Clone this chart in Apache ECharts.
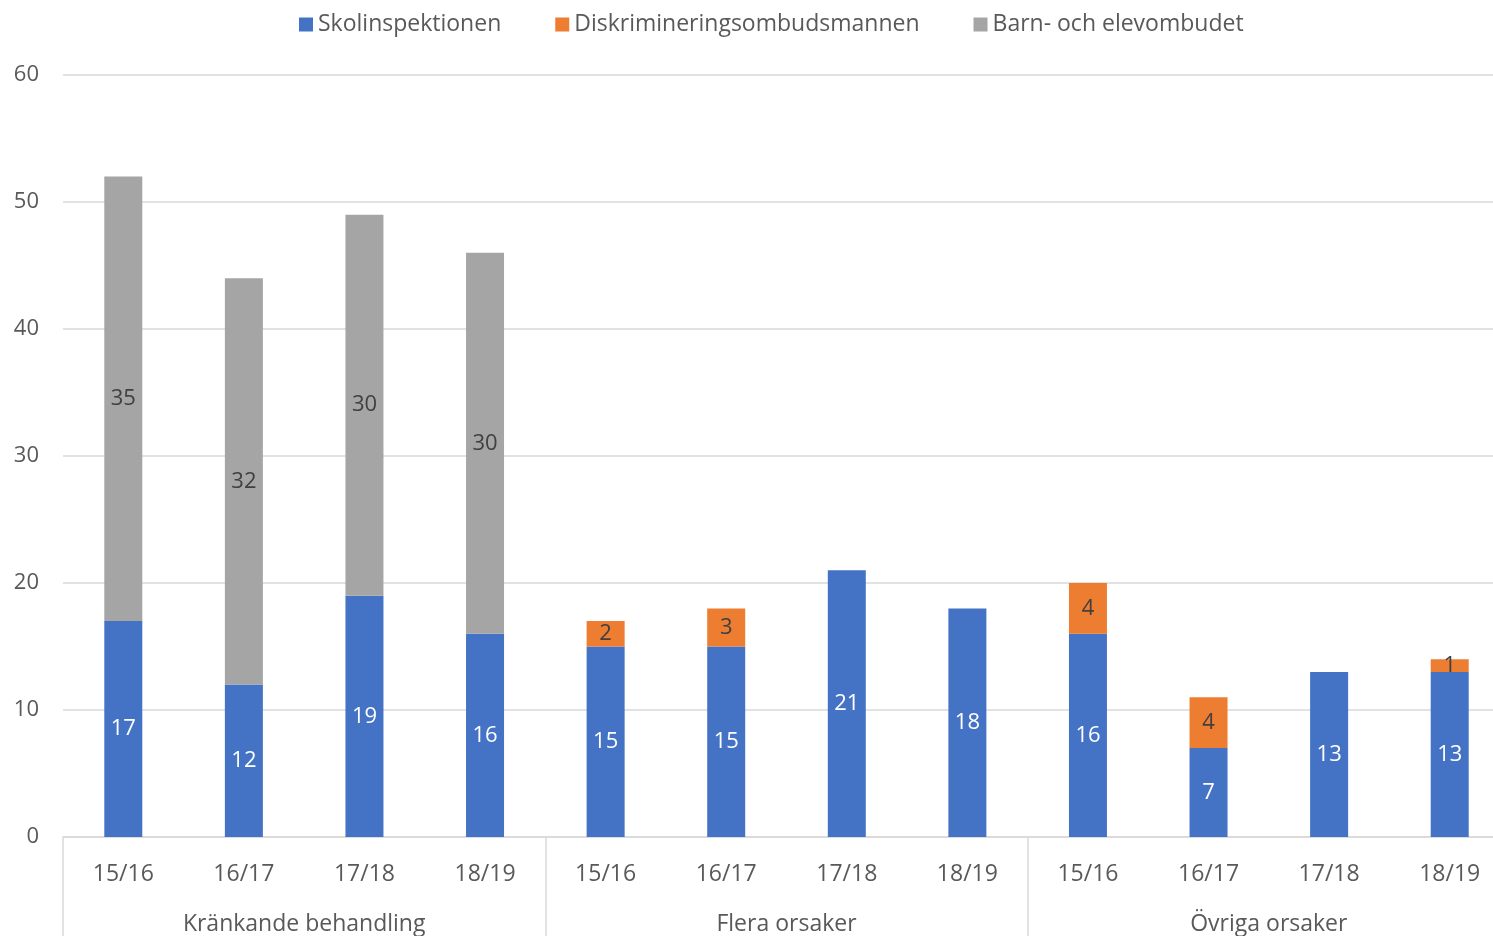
<!DOCTYPE html>
<html>
<head>
<meta charset="utf-8">
<script src="https://cdn.jsdelivr.net/npm/echarts@6/dist/echarts.min.js"></script>
<style>
  html, body { margin: 0; padding: 0; background: #fff; }
  #main { width: 1493px; height: 936px; }
</style>
</head>
<body>
<div id="main"></div>
<script>
var years = ['15/16', '16/17', '17/18', '18/19', '15/16', '16/17', '17/18', '18/19', '15/16', '16/17', '17/18', '18/19'];
var groups = ['Kränkande behandling', 'Flera orsaker', 'Övriga orsaker'];
var skolinspektionen = [17, 12, 19, 16, 15, 15, 21, 18, 16, 7, 13, 13];
var diskriminering = [0, 0, 0, 0, 2, 3, 0, 0, 4, 4, 0, 1];
var barnElev = [35, 32, 30, 30, 0, 0, 0, 0, 0, 0, 0, 0];
var yTicks = [0, 10, 20, 30, 40, 50, 60];

var font = '"Open Sans", "Noto Sans", sans-serif';
var gray = '#595959';

var myChart = echarts.init(document.getElementById('main'));

function hideZero(p) {
  return p.value ? p.value : '';
}

function makeSeries(name, data, color, labelColor) {
  return {
    name: name,
    type: 'bar',
    stack: 'total',
    barWidth: 38,
    itemStyle: { color: color },
    label: {
      show: true,
      position: 'inside',
      color: labelColor,
      fontFamily: font,
      fontSize: 22,
      formatter: hideZero
    },
    data: data
  };
}

var option = {
  backgroundColor: '#fff',
  textStyle: { fontFamily: font },
  legend: {
    top: 8,
    left: 294,
    itemWidth: 14,
    itemHeight: 14,
    itemGap: 54,
    icon: 'rect',
    textStyle: { color: gray, fontSize: 23, fontFamily: font }
  },
  // plot runs past the right edge of the picture, as in the original
  grid: {
    left: 63,
    right: -17,
    top: 75,
    bottom: 99,
    outerBoundsMode: 'none'
  },
  xAxis: [{
    type: 'category',
    data: years,
    position: 'bottom',
    axisLine: { show: true, lineStyle: { color: '#d9d9d9', width: 1.5 } },
    axisTick: { show: false },
    axisLabel: { color: gray, fontSize: 23, margin: 26, fontFamily: font }
  }, {
    type: 'category',
    data: groups,
    position: 'bottom',
    boundaryGap: true,
    axisLine: { show: false },
    axisTick: { show: true, length: 100, lineStyle: { color: '#d9d9d9', width: 1.5 } },
    axisLabel: { color: gray, fontSize: 23, margin: 76, fontFamily: font }
  }],
  yAxis: {
    type: 'value',
    min: yTicks[0],
    max: yTicks[yTicks.length - 1],
    interval: 10,
    axisLine: { show: false },
    axisTick: { show: false },
    splitLine: { lineStyle: { color: '#d9d9d9', width: 1.5 } },
    axisLabel: { color: gray, fontSize: 22, margin: 24, fontFamily: font }
  },
  series: [
    makeSeries('Skolinspektionen', skolinspektionen, '#4472c4', '#ffffff'),
    makeSeries('Diskrimineringsombudsmannen', diskriminering, '#ed7d31', '#404040'),
    makeSeries('Barn- och elevombudet', barnElev, '#a5a5a5', '#404040')
  ]
};

myChart.setOption(option);
</script>
</body>
</html>
